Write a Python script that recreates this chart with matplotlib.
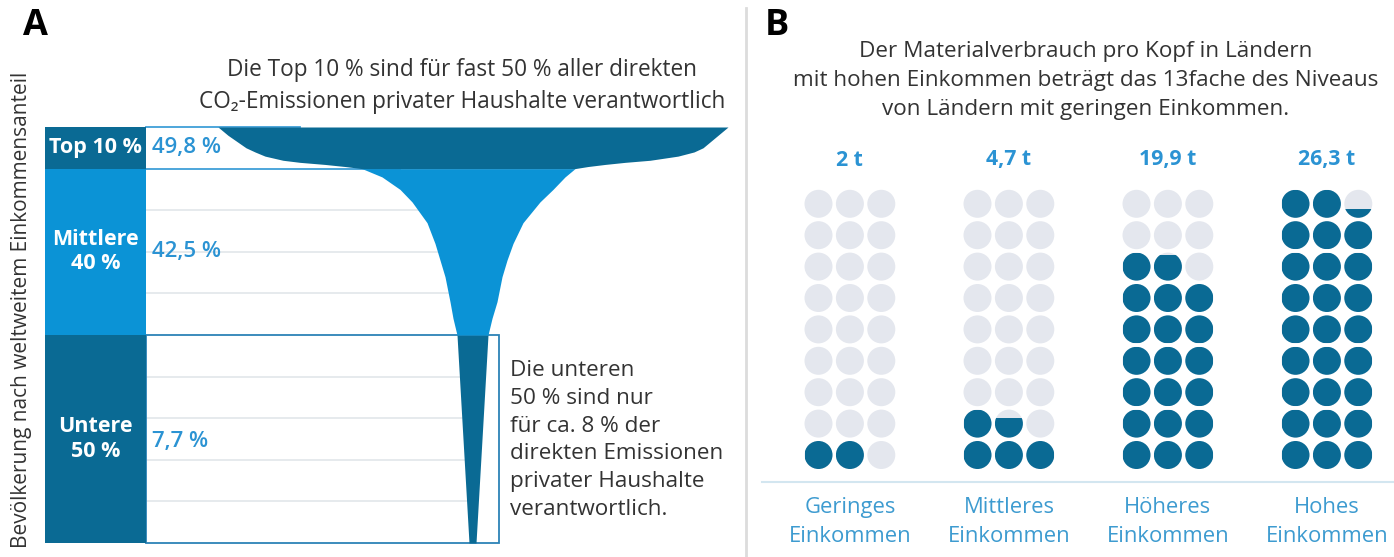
import numpy as np
import matplotlib
matplotlib.use("Agg")
import matplotlib.pyplot as plt
from matplotlib.patches import Circle, Rectangle

plt.rcParams['font.family'] = ['Open Sans', 'DejaVu Sans']

W, H = 1394, 557
DARK = '#0a6a94'
LIGHT = '#0b93d6'
GREY_DOT = '#e4e7ee'
TXT = '#333333'
BLUE_TXT = '#2b93d3'
CAT_TXT = '#3d9bd0'

# ------------ data: panel A ------------
band_labels = ['Untere\n50 %', 'Mittlere\n40 %', 'Top 10 %']
pop_share = [50, 40, 10]
emission_labels = ['7,7 %', '42,5 %', '49,8 %']
band_colors = [DARK, LIGHT, DARK]

# funnel outline: population percentile -> left / right edge (px)
low_pct = [0, 25, 50]
low_left = [469, 463, 457]
low_right = [476, 482, 488]

mid_pct = [50, 54, 58, 64, 68, 72, 77, 82, 85, 88, 90]
mid_left = [457, 453, 450, 445, 440, 435, 427, 412, 400, 382, 362]
mid_right = [488, 492, 497, 502, 507, 513, 523, 540, 553, 565, 575]

top_pct = [90, 90.5, 91, 91.5, 92, 93, 94, 95, 96, 97, 98, 99, 100]
top_left = [362, 345, 325, 300, 283, 265, 255, 246, 240, 234, 228, 223, 218]
top_right = [575, 588, 605, 625, 650, 678, 694, 703, 708, 713, 718, 723, 728]

# ------------ data: panel B ------------
income_groups = ['Geringes\nEinkommen', 'Mittleres\nEinkommen', 'Höheres\nEinkommen', 'Hohes\nEinkommen']
material_t = [2.0, 4.7, 19.9, 26.3]
material_labels = ['2 t', '4,7 t', '19,9 t', '26,3 t']

fig = plt.figure(figsize=(W / 100, H / 100), dpi=100)


def px_box(x0, y0, x1, y1):
    return [x0 / W, 1 - y1 / H, (x1 - x0) / W, (y1 - y0) / H]


# ------------ Panel A ------------
PPP = 4.16      # px per percent of population
BASE = 543      # px row of 0 %
COL_X0, COL_X1 = 45, 146

axa = fig.add_axes(px_box(0, 0, 745, H))
axa.set_xlim(0, 745)
axa.set_ylim((BASE - H) / PPP, BASE / PPP)
axa.axis('off')

# grid lines every 10 %
for p in range(10, 100, 10):
    if p in (50, 90):
        continue
    axa.plot([COL_X1, 472], [p, p], color='#e2e6ea', lw=1.2, zorder=1)
# band borders
axa.plot([COL_X1, 400], [90, 90], color='#3f9fd8', lw=1.3, zorder=1)
axa.plot([COL_X1, 300], [100, 100], color='#3f9fd8', lw=1.3, zorder=1)
axa.add_patch(Rectangle((COL_X1, 0), 499 - COL_X1, 50, fill=False,
                        ec='#2c82b6', lw=1.3, zorder=1))

# stacked population column
bottoms = np.cumsum([0] + pop_share[:-1])
axa.bar([COL_X0] * 3, pop_share, bottom=bottoms, width=COL_X1 - COL_X0,
        align='edge', color=band_colors, zorder=2)
for lab, b, h, em in zip(band_labels, bottoms, pop_share, emission_labels):
    axa.text((COL_X0 + COL_X1) / 2, b + h / 2, lab, ha='center', va='center',
             color='white', fontsize=15.5, fontweight='bold', linespacing=1.2, zorder=3)
    axa.text(COL_X1 + 6, b + h / 2 - (0.7 if h == 50 else 0), em, ha='left', va='center',
             color=BLUE_TXT, fontsize=16, fontweight='semibold', zorder=3)

# funnel
axa.fill_betweenx(low_pct, low_left, low_right, color=DARK, lw=0, zorder=4)
axa.fill_betweenx(mid_pct, mid_left, mid_right, color=LIGHT, lw=0, zorder=4)
axa.fill_betweenx(top_pct, top_left, top_right, color=DARK, lw=0, zorder=4)

axa.text(462, (BASE - 86) / PPP,
         'Die Top 10 % sind für fast 50 % aller direkten\nCO₂-Emissionen privater Haushalte verantwortlich',
         ha='center', va='center', fontsize=16.3, color=TXT, linespacing=1.48)
axa.text(510, (BASE - 440) / PPP,
         'Die unteren\n50 % sind nur\nfür ca. 8 % der\ndirekten Emissionen\nprivater Haushalte\nverantwortlich.',
         ha='left', va='center', fontsize=16.2, color=TXT, linespacing=1.43)
axa.text(22, (BASE - 310) / PPP, 'Bevölkerung nach weltweitem Einkommensanteil',
         rotation=90, ha='center', va='center', fontsize=15, color=TXT)

# ------------ Panel B ------------
P = 31.4          # px per dot pitch
GAP = 159 / P     # group spacing in dot units
OX, OY = 818.5, 455

axb = fig.add_axes(px_box(752, 0, W, H))
axb.set_xlim((752 - OX) / P, (W - OX) / P)
axb.set_ylim((OY - H) / P, OY / P)
axb.axis('off')

R = 14 / P
for g, val in enumerate(material_t):
    for k in range(27):
        row, col = divmod(k, 3)
        cx, cy = g * GAP + col, row
        frac = min(max(val - k, 0), 1)
        axb.add_patch(Circle((cx, cy), R, color=GREY_DOT, lw=0))
        if frac > 0:
            c = Circle((cx, cy), R, color=DARK, lw=0)
            axb.add_patch(c)
            clip = Rectangle((cx - R, cy - R), 2 * R, 2 * R * frac,
                             transform=axb.transData)
            c.set_clip_path(clip)
    axb.text(g * GAP + 1, (OY - 160) / P, material_labels[g], ha='center', va='center',
             color=BLUE_TXT, fontsize=15.3, fontweight='bold')
    axb.text(g * GAP + 1, (OY - 522) / P, income_groups[g], ha='center', va='center',
             color=CAT_TXT, fontsize=15.8, linespacing=1.44)

axb.plot([(762 - OX) / P, (W - OX) / P], [(OY - 482) / P] * 2, color='#d3e6f0', lw=1.5)
axb.text((1086 - OX) / P, (OY - 80.5) / P,
         'Der Materialverbrauch pro Kopf in Ländern\nmit hohen Einkommen beträgt das 13fache des Niveaus\nvon Ländern mit geringen Einkommen.',
         ha='center', va='center', fontsize=16.2, color=TXT, linespacing=1.48)

# panel letters and separator
fig.text(23 / W, 1 - 26 / H, 'A', fontsize=26, fontweight='bold', va='center', ha='left')
fig.text(765 / W, 1 - 26 / H, 'B', fontsize=26, fontweight='bold', va='center', ha='left')
fig.add_artist(plt.Line2D([746 / W] * 2, [0, 1 - 8 / H], color='#dcdcdc', lw=2))

fig.savefig('out.png', dpi=100, facecolor='white')
